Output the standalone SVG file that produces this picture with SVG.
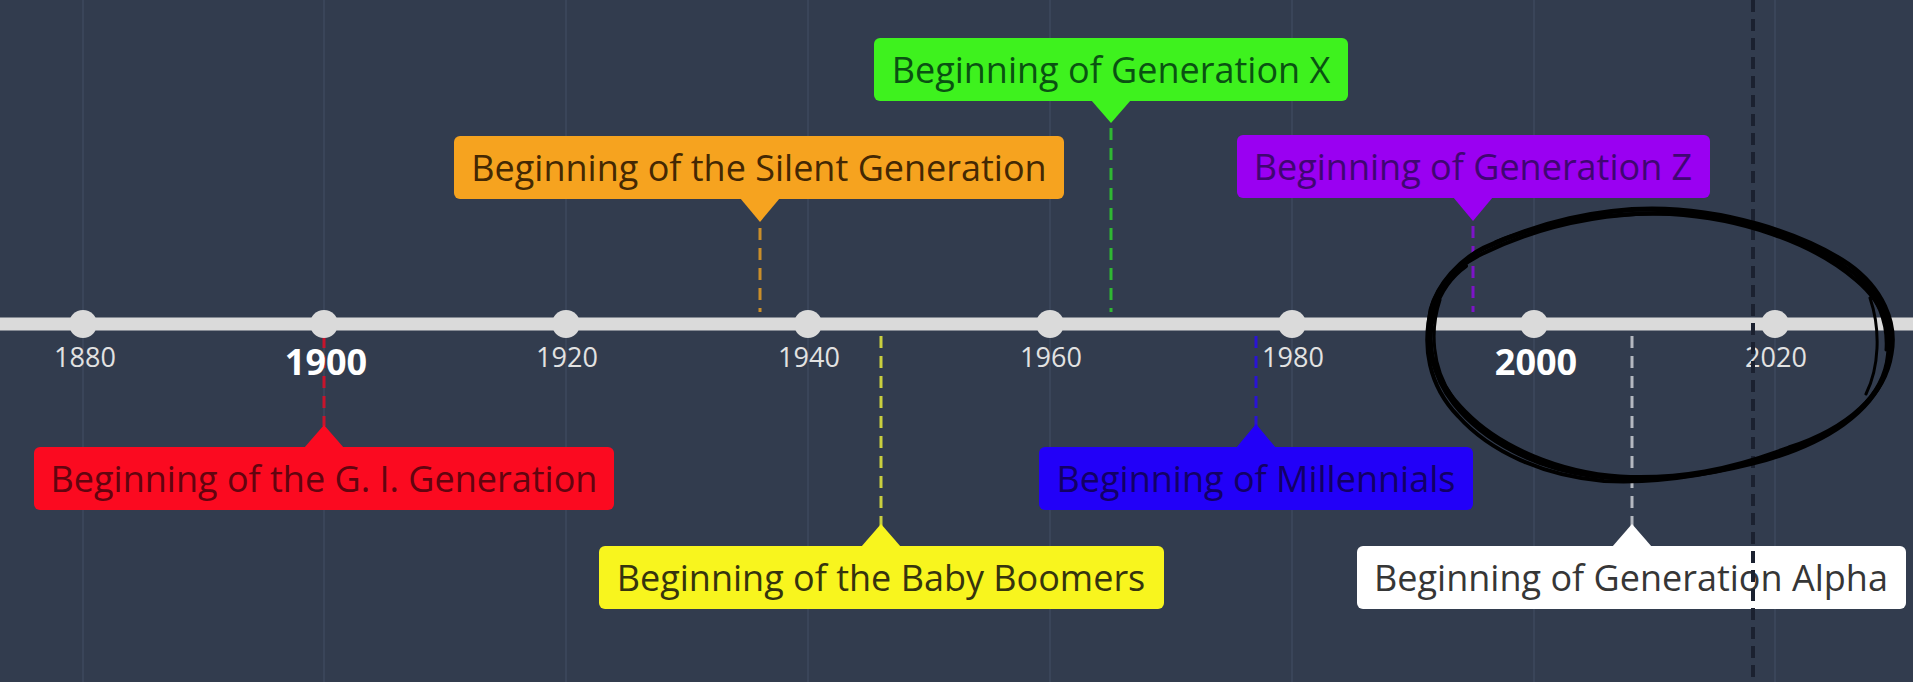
<svg xmlns="http://www.w3.org/2000/svg" width="1913" height="682" viewBox="0 0 1913 682">
  <style>
    .bg { fill: #323c4e; }
    .grid { stroke: #3a4559; stroke-width: 2; }
    .axis { stroke: #dadada; stroke-width: 13; }
    .dot { fill: #dadada; }
    .yr { font-family: "Open Sans", "Noto Sans", sans-serif; font-size: 27px; fill: #e2e2e2; text-anchor: middle; }
    .yr-major { font-family: "Open Sans", "Noto Sans", sans-serif; font-size: 36px; font-weight: bold; fill: #ffffff; text-anchor: middle; }
    .lbl { font-family: "Open Sans", "Noto Sans", sans-serif; font-size: 36px; text-anchor: middle; }
    .conn { fill: none; stroke-width: 3; stroke-dasharray: 12 8; }
    .now { stroke: #1b2130; stroke-width: 4; stroke-dasharray: 12 7; }
    .ink { fill: none; stroke: #000; stroke-linecap: round; stroke-linejoin: round; }
  </style>

  <rect class="bg" x="0" y="0" width="1913" height="682"/>

  <!-- faint vertical guides at each 20-year tick -->
  <g id="grid">
    <line class="grid" x1="83" y1="0" x2="83" y2="682"/>
    <line class="grid" x1="324" y1="0" x2="324" y2="682"/>
    <line class="grid" x1="566" y1="0" x2="566" y2="682"/>
    <line class="grid" x1="808" y1="0" x2="808" y2="682"/>
    <line class="grid" x1="1050" y1="0" x2="1050" y2="682"/>
    <line class="grid" x1="1292" y1="0" x2="1292" y2="682"/>
    <line class="grid" x1="1534" y1="0" x2="1534" y2="682"/>
    <line class="grid" x1="1775" y1="0" x2="1775" y2="682"/>
  </g>

  <!-- dashed leaders from each event box to the axis -->
  <g id="connectors">
    <line class="conn" stroke="#c8142c" x1="324" y1="336" x2="324" y2="426"/>
    <line class="conn" stroke="#c98e2a" x1="760" y1="228" x2="760" y2="312"/>
    <line class="conn" stroke="#2fb832" x1="1111" y1="128" x2="1111" y2="312"/>
    <line class="conn" stroke="#7d14c8" x1="1473" y1="226" x2="1473" y2="312"/>
    <line class="conn" stroke="#2a14d2" x1="1256" y1="336" x2="1256" y2="426"/>
    <line class="conn" stroke="#c9cf3e" x1="881" y1="336" x2="881" y2="526"/>
    <line class="conn" stroke="#b4b8c0" x1="1632" y1="336" x2="1632" y2="526"/>
  </g>

  <!-- axis -->
  <g id="axis">
    <line class="axis" x1="0" y1="324" x2="1913" y2="324"/>
    <circle class="dot" cx="83" cy="324" r="14"/>
    <circle class="dot" cx="324" cy="324" r="14"/>
    <circle class="dot" cx="566" cy="324" r="14"/>
    <circle class="dot" cx="808" cy="324" r="14"/>
    <circle class="dot" cx="1050" cy="324" r="14"/>
    <circle class="dot" cx="1292" cy="324" r="14"/>
    <circle class="dot" cx="1534" cy="324" r="14"/>
    <circle class="dot" cx="1775" cy="324" r="14"/>
    <text class="yr" x="85" y="367">1880</text>
    <text class="yr-major" x="326" y="375">1900</text>
    <text class="yr" x="567" y="367">1920</text>
    <text class="yr" x="809" y="367">1940</text>
    <text class="yr" x="1051" y="367">1960</text>
    <text class="yr" x="1293" y="367">1980</text>
    <text class="yr-major" x="1536" y="375">2000</text>
    <text class="yr" x="1776" y="367">2020</text>
  </g>

  <!-- event boxes -->
  <g id="gi-generation">
    <rect x="34" y="447" width="580" height="63" rx="6" fill="#fb0a20"/>
    <polygon points="304,448 324,425 344,448" fill="#fb0a20"/>
    <text class="lbl" x="324" y="492" fill="#62040f">Beginning of the G. I. Generation</text>
  </g>

  <g id="silent-generation">
    <rect x="454" y="136" width="610" height="63" rx="6" fill="#f6a31f"/>
    <polygon points="740,198 760,222 780,198" fill="#f6a31f"/>
    <text class="lbl" x="759" y="181" fill="#442803">Beginning of the Silent Generation</text>
  </g>

  <g id="generation-x">
    <rect x="874" y="38" width="474" height="63" rx="6" fill="#3ef21e"/>
    <polygon points="1091,100 1111,123 1131,100" fill="#3ef21e"/>
    <text class="lbl" x="1111" y="83" fill="#0a5212">Beginning of Generation X</text>
  </g>

  <g id="generation-z">
    <rect x="1237" y="135" width="473" height="63" rx="6" fill="#9a00f2"/>
    <polygon points="1453,197 1473,221 1493,197" fill="#9a00f2"/>
    <text class="lbl" x="1473" y="180" fill="#400672">Beginning of Generation Z</text>
  </g>

  <g id="baby-boomers">
    <rect x="599" y="546" width="565" height="63" rx="6" fill="#f8f51e"/>
    <polygon points="861,547 881,524 901,547" fill="#f8f51e"/>
    <text class="lbl" x="881" y="591" fill="#36340e">Beginning of the Baby Boomers</text>
  </g>

  <g id="millennials">
    <rect x="1039" y="447" width="434" height="63" rx="6" fill="#2200f8"/>
    <polygon points="1236,448 1256,424 1276,448" fill="#2200f8"/>
    <text class="lbl" x="1256" y="492" fill="#120066">Beginning of Millennials</text>
  </g>

  <g id="generation-alpha">
    <rect x="1357" y="546" width="549" height="63" rx="6" fill="#ffffff"/>
    <polygon points="1612,547 1632,524 1652,547" fill="#ffffff"/>
    <text class="lbl" x="1631" y="591" fill="#363636">Beginning of Generation Alpha</text>
  </g>

  <!-- current-date marker -->
  <line id="today" class="now" x1="1753" y1="0" x2="1753" y2="682"/>

  <!-- hand-drawn loop around 2000–2020 -->
  <g id="scribble">
    <path class="ink" stroke-width="5" d="M1484,248 C1540,222 1600,209 1652,209 C1722,209 1800,232 1848,264 C1882,288 1897,322 1891,354 C1885,394 1850,428 1789,448 C1730,470 1680,480 1620,477 C1560,473 1500,448 1465,412 C1434,382 1424,345 1431,310 C1438,284 1460,260 1484,248"/>
    <path class="ink" stroke-width="4" d="M1470,260 C1530,228 1596,214 1660,213 C1730,213 1806,236 1852,272 C1884,296 1893,330 1887,362 C1879,402 1840,434 1780,454 C1720,474 1664,484 1604,481 C1544,476 1490,452 1458,416 C1429,386 1421,346 1432,306 C1440,282 1456,268 1478,256"/>
    <path class="ink" stroke-width="4" d="M1496,242 C1552,220 1610,212 1670,214 C1740,218 1812,242 1856,280 C1887,306 1895,336 1885,374 C1871,412 1828,442 1766,460 C1708,476 1650,484 1592,476 C1536,468 1484,442 1454,404 C1431,376 1426,340 1435,310 C1441,290 1452,276 1466,266"/>
    <path class="ink" stroke-width="3" d="M1856,276 C1877,296 1888,322 1886,350 M1870,298 C1881,330 1879,368 1866,394 M1440,300 C1430,330 1432,368 1452,396"/>
  </g>
</svg>
